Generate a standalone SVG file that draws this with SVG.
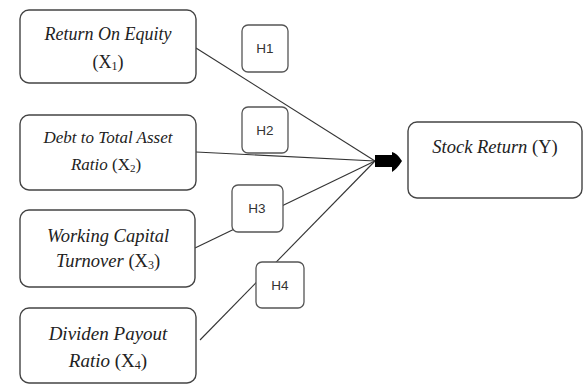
<svg xmlns="http://www.w3.org/2000/svg" width="583" height="385" viewBox="0 0 583 385">
<style>
.box{fill:#fff;stroke:#444;stroke-width:1.4}
.hb{fill:#fff;stroke:#555;stroke-width:1.3}
.t{font-family:"Liberation Serif",serif;font-style:italic;fill:#222;text-anchor:middle}
.n{font-style:normal}
.h{font-family:"Liberation Sans",sans-serif;font-size:13.5px;fill:#333;text-anchor:middle}
.c{stroke:#333;stroke-width:1.1;fill:none}
</style>
<rect width="583" height="385" fill="#fff"/>
<g id="connectors">
<line class="c" x1="196" y1="48" x2="375" y2="161"/>
<line class="c" x1="196" y1="152" x2="375" y2="161"/>
<line class="c" x1="195" y1="248" x2="375" y2="161"/>
<line class="c" x1="200" y1="340" x2="375" y2="161"/>
<path d="M375,155 L392,155 L392,152 Q397,153 402,161 Q397,169 392,172 L392,167 L375,167 Z" fill="#000"/>
</g>
<g id="x1">
<rect class="box" x="20" y="10" width="176" height="73" rx="9"/>
<text class="t" x="108" y="40" font-size="18">Return On Equity</text>
<text class="t n" x="108" y="68" font-size="18">(X<tspan font-size="12" dy="2">1</tspan><tspan dy="-2">)</tspan></text>
</g>
<g id="x2">
<rect class="box" x="20" y="115" width="176" height="75" rx="9"/>
<text class="t" x="108" y="143" font-size="17">Debt to Total Asset</text>
<text class="t" x="106" y="170" font-size="17">Ratio <tspan class="n">(X<tspan font-size="11" dy="2">2</tspan><tspan dy="-2">)</tspan></tspan></text>
</g>
<g id="x3">
<rect class="box" x="20" y="210" width="175" height="77" rx="9"/>
<text class="t" x="108" y="242" font-size="18.5">Working Capital</text>
<text class="t" x="108" y="267" font-size="18.5">Turnover <tspan class="n">(X<tspan font-size="12" dy="2">3</tspan><tspan dy="-2">)</tspan></tspan></text>
</g>
<g id="x4">
<rect class="box" x="20" y="308" width="176" height="75" rx="9"/>
<text class="t" x="108" y="340" font-size="19">Dividen Payout</text>
<text class="t" x="108" y="367" font-size="19">Ratio <tspan class="n">(X<tspan font-size="12" dy="2">4</tspan><tspan dy="-2">)</tspan></tspan></text>
</g>
<g id="y">
<rect class="box" x="408" y="122" width="174" height="76" rx="9"/>
<text class="t" x="495" y="153" font-size="18.5">Stock Return <tspan class="n">(Y)</tspan></text>
</g>
<g id="h1">
<rect class="hb" x="242" y="25" width="46" height="47" rx="6"/>
<text class="h" x="265" y="53">H1</text>
</g>
<g id="h2">
<rect class="hb" x="242" y="107" width="46" height="46" rx="6"/>
<text class="h" x="265" y="135">H2</text>
</g>
<g id="h3">
<rect class="hb" x="232" y="185" width="51" height="47" rx="6"/>
<text class="h" x="257" y="213">H3</text>
</g>
<g id="h4">
<rect class="hb" x="256" y="262" width="48" height="46" rx="6"/>
<text class="h" x="280" y="290">H4</text>
</g>
</svg>
